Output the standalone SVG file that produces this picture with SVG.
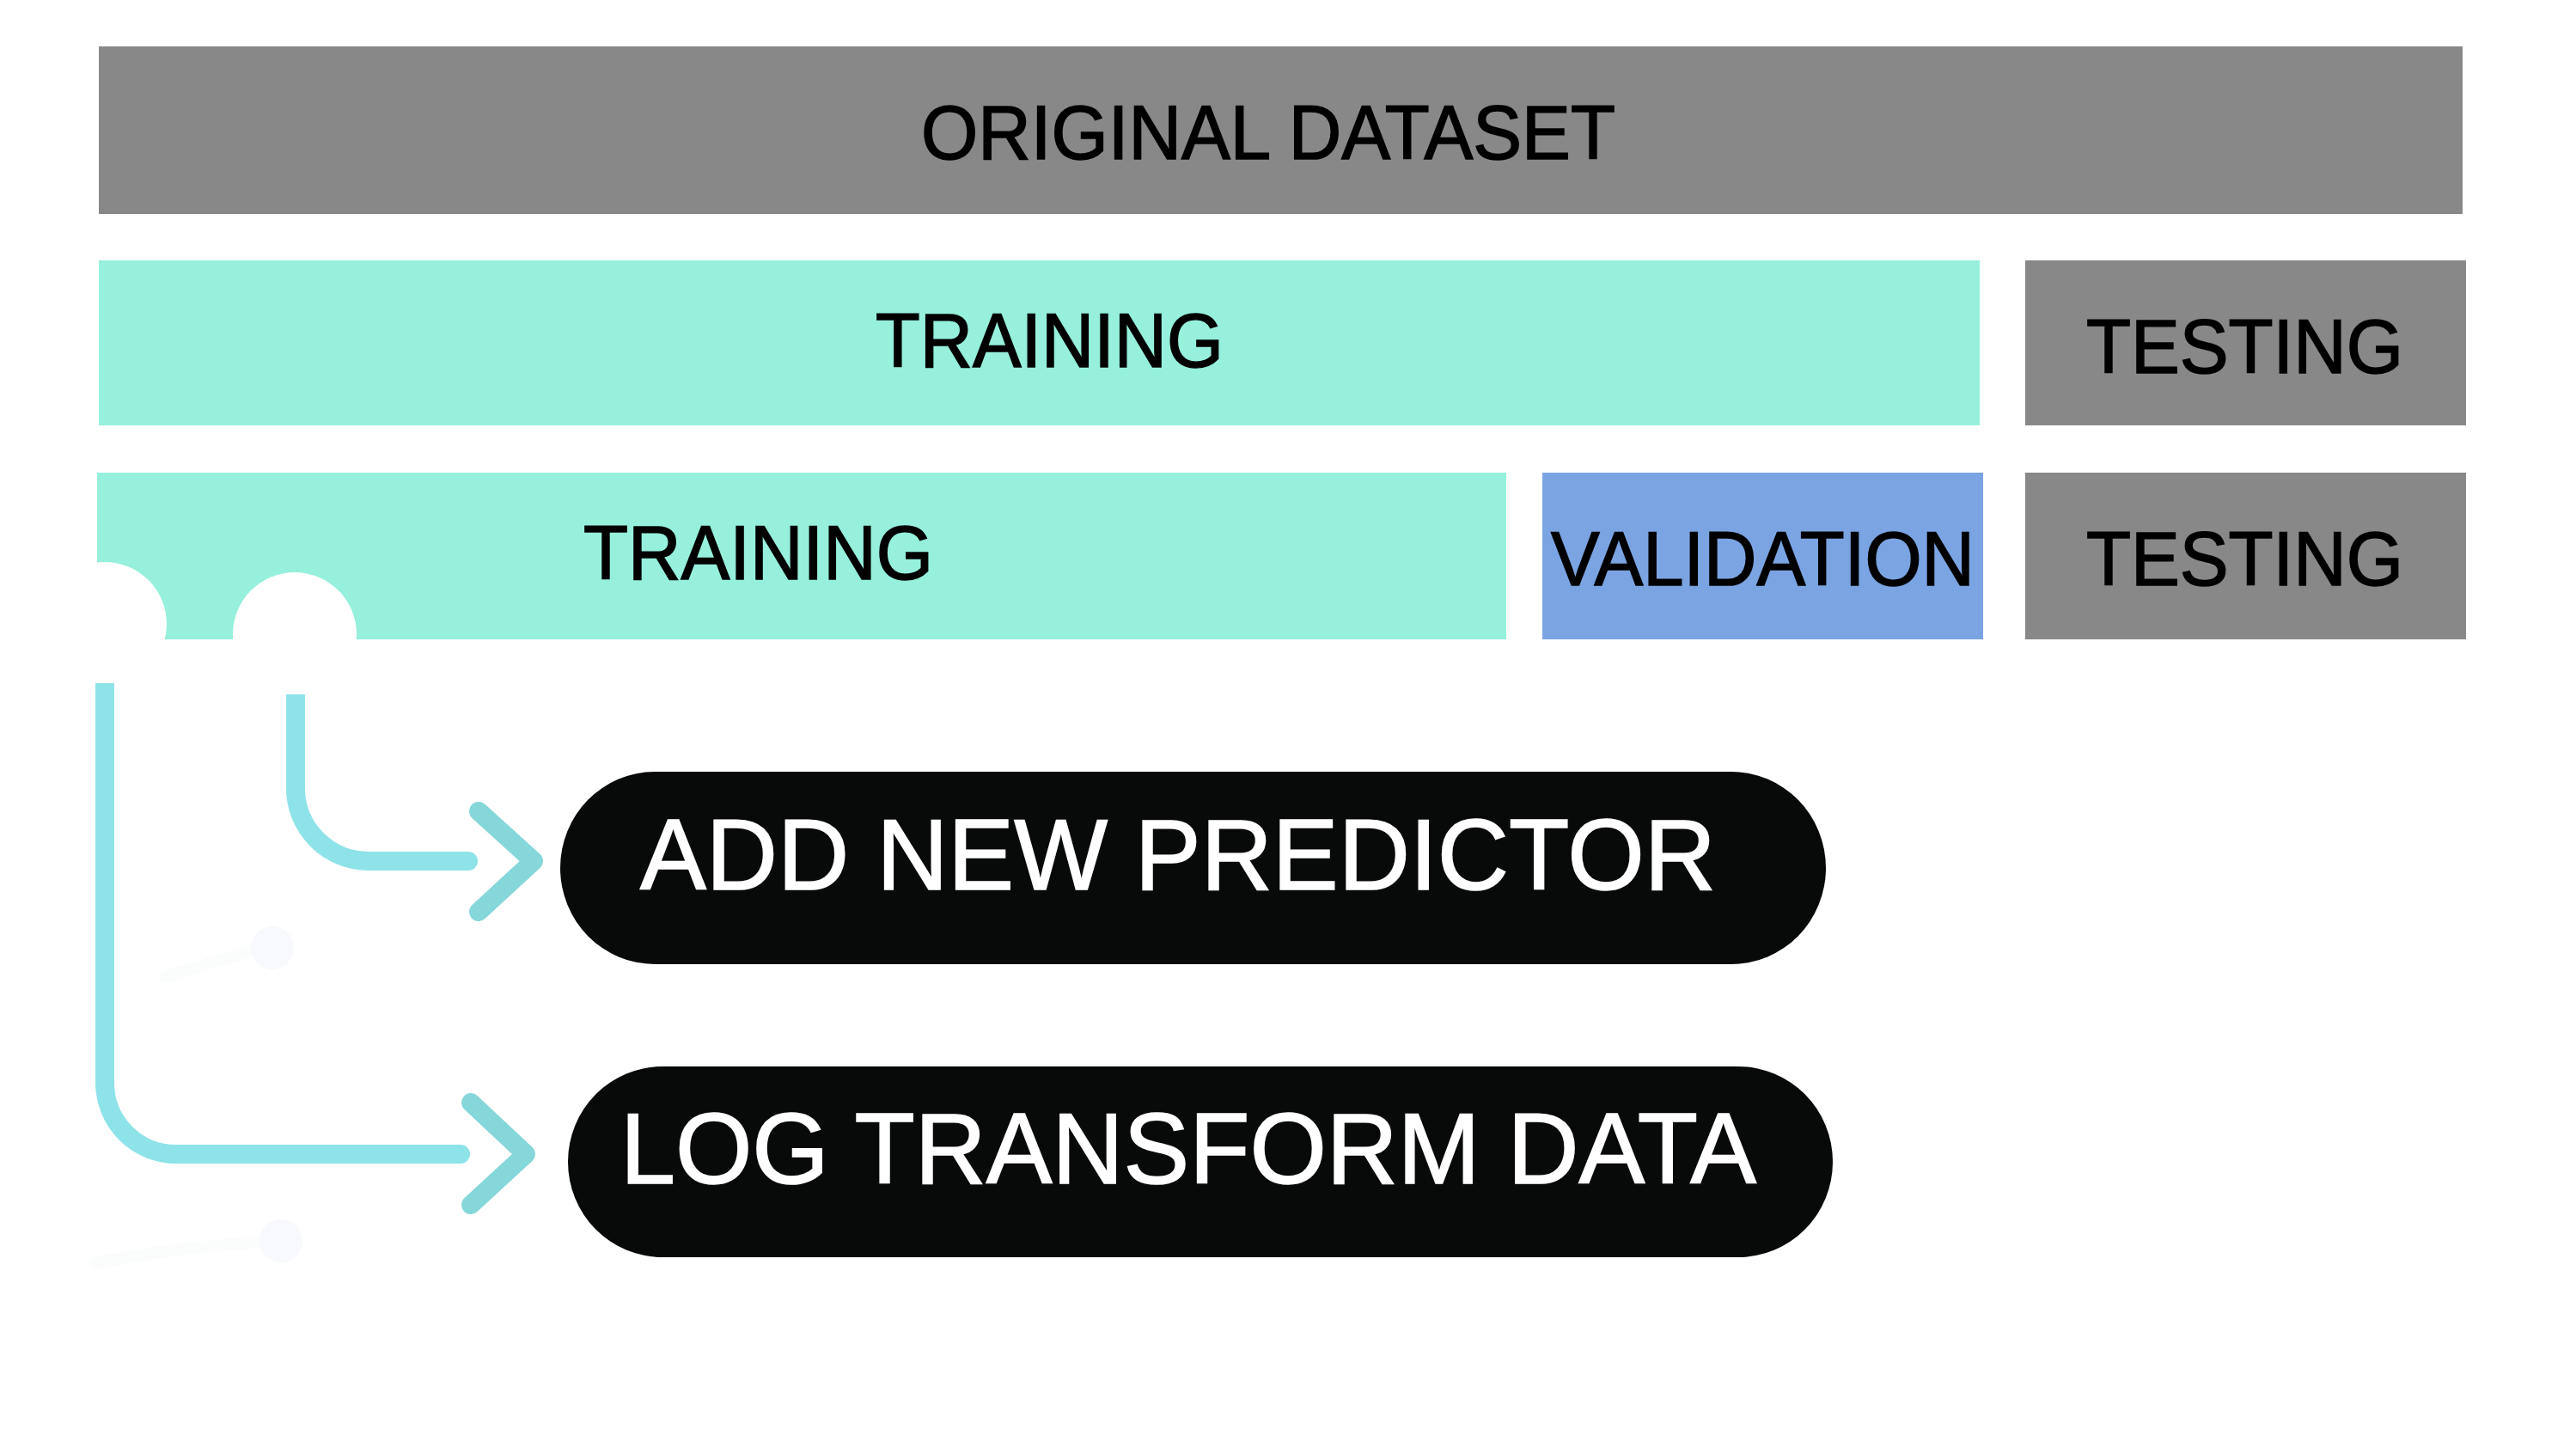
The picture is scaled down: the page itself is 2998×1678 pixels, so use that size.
<svg xmlns="http://www.w3.org/2000/svg" width="2998" height="1678" viewBox="0 0 2998 1678">
<style>
.grey{fill:#888888}
.mint{fill:#96F0DB}
.blue{fill:#7BA4E2}
.pill{fill:#080A09}
.lbl{font-family:"Liberation Sans",Arial,sans-serif;font-size:89px;fill:#000000;stroke:#000000;stroke-width:1.6}
.plbl{font-family:"Liberation Sans",Arial,sans-serif;font-size:116px;fill:#FFFFFF;stroke:#FFFFFF;stroke-width:1.6}
.line{fill:none;stroke:#8EE3E8;stroke-width:22}
.head{fill:none;stroke:#86D7DA;stroke-width:22;stroke-linecap:round;stroke-linejoin:round}
.ghost{fill:#F8F9FC}
.ghostline{fill:none;stroke:#FBFCFC;stroke-width:14;stroke-linecap:round}
</style>
<rect width="2998" height="1678" fill="#FFFFFF"/>
<g id="original-dataset">
<rect class="grey" x="115" y="54" width="2751" height="195"/>
<text class="lbl" x="1072" y="185" textLength="808" lengthAdjust="spacingAndGlyphs">ORIGINAL DATASET</text>
</g>
<g id="training-1">
<rect class="mint" x="115" y="303" width="2189" height="192"/>
<text class="lbl" x="1019" y="427" textLength="405" lengthAdjust="spacingAndGlyphs">TRAINING</text>
</g>
<g id="testing-1">
<rect class="grey" x="2357" y="303" width="513" height="192"/>
<text class="lbl" x="2428" y="434" textLength="369" lengthAdjust="spacingAndGlyphs">TESTING</text>
</g>
<g id="training-2">
<rect class="mint" x="113" y="550" width="1640" height="194"/>
<circle cx="122" cy="726" r="72" fill="#FFFFFF"/>
<circle cx="343" cy="738" r="72" fill="#FFFFFF"/>
<text class="lbl" x="679" y="674" textLength="407" lengthAdjust="spacingAndGlyphs">TRAINING</text>
</g>
<g id="validation">
<rect class="blue" x="1795" y="550" width="513" height="194"/>
<text class="lbl" x="1805" y="681" textLength="493" lengthAdjust="spacingAndGlyphs">VALIDATION</text>
</g>
<g id="testing-2">
<rect class="grey" x="2357" y="550" width="513" height="194"/>
<text class="lbl" x="2428" y="681" textLength="369" lengthAdjust="spacingAndGlyphs">TESTING</text>
</g>
<g id="ghosts">
<path class="ghostline" d="M192 1137 L300 1104"/>
<circle class="ghost" cx="317" cy="1103" r="25"/>
<path class="ghostline" d="M110 1470 Q200 1452 305 1445"/>
<circle class="ghost" cx="327" cy="1444" r="25"/>
</g>
<g id="connectors">
<path class="line" d="M344 808 V917 A85 85 0 0 0 429 1002 H545"/>
<circle cx="545" cy="1002" r="11" fill="#8EE3E8"/>
<polyline class="head" points="557,944 621,1002 557,1061"/>
<path class="line" d="M122 795 V1260 A83 83 0 0 0 205 1343 H536"/>
<circle cx="536" cy="1343" r="11" fill="#8EE3E8"/>
<polyline class="head" points="548,1283 612,1343 548,1402"/>
</g>
<g id="add-new-predictor">
<rect class="pill" x="652" y="898" width="1473" height="224" rx="110" ry="112"/>
<text class="plbl" x="745" y="1035" textLength="1252" lengthAdjust="spacingAndGlyphs">ADD NEW PREDICTOR</text>
</g>
<g id="log-transform-data">
<rect class="pill" x="661" y="1241" width="1472" height="222" rx="110" ry="111"/>
<text class="plbl" x="722" y="1377" font-size="117" textLength="1322" lengthAdjust="spacingAndGlyphs">LOG TRANSFORM DATA</text>
</g>
</svg>
